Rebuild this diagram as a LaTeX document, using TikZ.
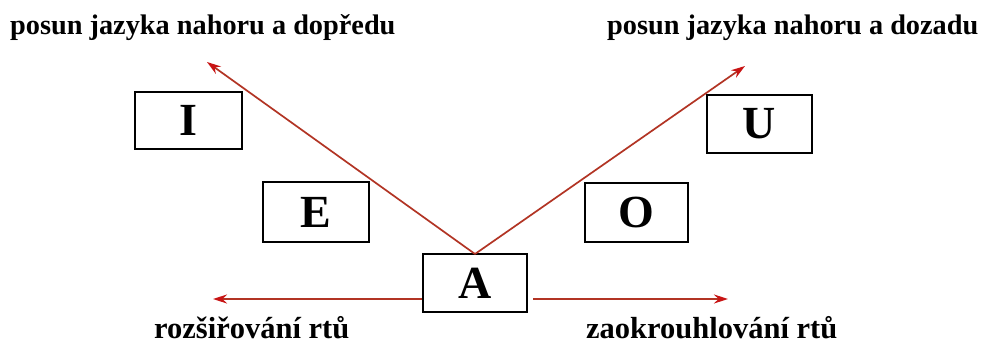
\documentclass[tikz,border=0pt]{standalone}
\usepackage{fontspec}
\setmainfont{Liberation Serif}
\usetikzlibrary{arrows.meta}
\definecolor{arr}{RGB}{178,52,36}
\definecolor{tipred}{RGB}{200,20,20}
\tikzset{
  vowel/.style={draw=black, line width=2.5pt, inner sep=0pt, font=\fontsize{46}{46}\selectfont\bfseries},
  label/.style={anchor=base west, inner sep=0pt, font=\fontsize{28.3}{30}\selectfont\bfseries},
  blabel/.style={anchor=base west, inner sep=0pt, font=\fontsize{30.5}{32}\selectfont\bfseries},
  redarrow/.style={draw=arr, line width=1.7pt, -{Stealth[length=14pt,width=9pt,fill=tipred,color=tipred]}}
}
\begin{document}
\begin{tikzpicture}[x=1pt,y=-1pt]
\useasboundingbox (0,0) rectangle (983,345);
\fill[white] (0,0) rectangle (983,345);
\node[vowel, minimum width=107pt, minimum height=57pt] (I) at (188.5,120.5) {I};
\node[vowel, minimum width=106pt, minimum height=60pt] (E) at (316,212) {E};
\node[vowel, minimum width=104pt, minimum height=58pt] (A) at (475,283) {A};
\node[vowel, minimum width=103pt, minimum height=59pt] (O) at (636.5,212.5) {O};
\node[vowel, minimum width=105pt, minimum height=58pt] (U) at (759.5,124) {U};
\coordinate (tl) at (207,62);
\coordinate (tr) at (745,66);
\coordinate (hl) at (213,299);
\coordinate (hr) at (728,299);
\coordinate (Atop) at (475,254);
\draw[redarrow] (Atop) -- (tl);
\draw[redarrow] (Atop) -- (tr);
\draw[redarrow] (A.west |- hl) -- (hl);
\draw[redarrow, shorten <=5pt] (A.east |- hr) -- (hr);
\node[label] (t1) at (10,35) {posun jazyka nahoru a dopředu};
\node[label] (t2) at (607,35) {posun jazyka nahoru a dozadu};
\node[blabel] (b1) at (154,338) {rozšiřování rtů};
\node[blabel] (b2) at (586,338) {zaokrouhlování rtů};
\end{tikzpicture}
\end{document}
